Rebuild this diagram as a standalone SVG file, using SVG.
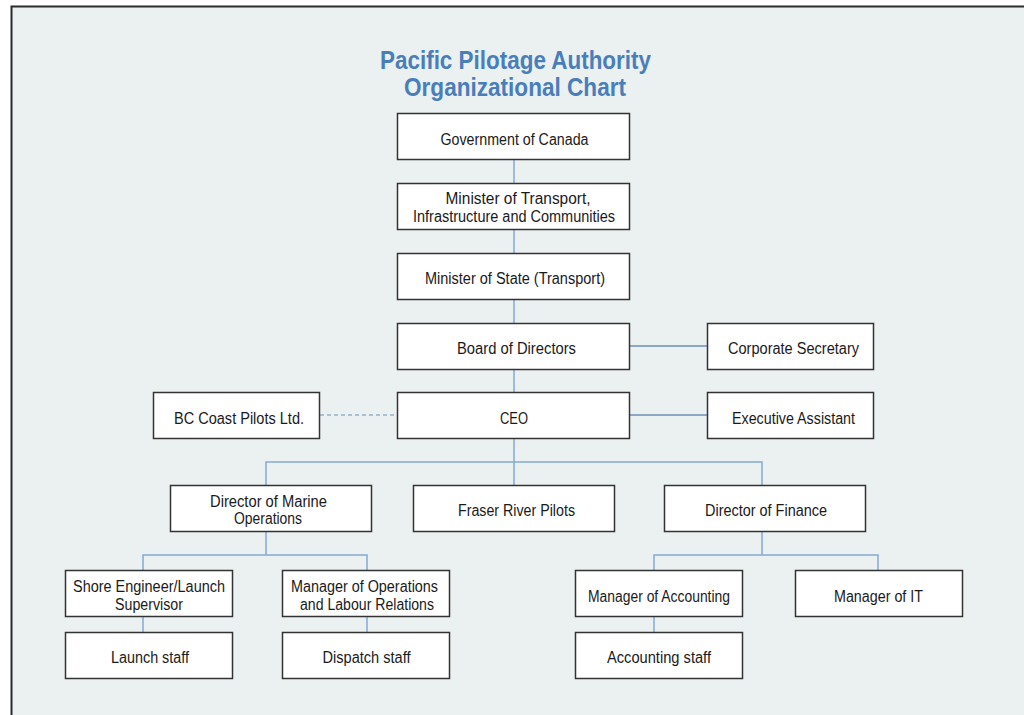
<svg xmlns="http://www.w3.org/2000/svg" width="1024" height="715" viewBox="0 0 1024 715">
<style>
.bg{fill:#EBF1F1}
.box{fill:#ffffff;stroke:#333333;stroke-width:1.5}
.t{font-family:"Liberation Sans",Arial,sans-serif;font-size:16px;fill:#1a1a1a;text-anchor:middle}
.title{font-family:"Liberation Sans",Arial,sans-serif;font-size:25px;font-weight:bold;fill:#4A7EBB;text-anchor:middle}
.c{stroke:#86A9D3;stroke-width:1.5;fill:none}
.cs{stroke:#6E8FB6;stroke-width:1.3;fill:none}
.d{stroke:#6E8FB6;stroke-width:1.2;fill:none;stroke-dasharray:4 3}
</style>
<rect x="0" y="0" width="1024" height="715" fill="#ffffff"/>
<rect class="bg" x="11" y="6" width="1013" height="709"/>
<path d="M11.5 715 V6.5 H1024" stroke="#2b2b2b" stroke-width="2" fill="none"/>
<g id="title">
<text class="title" x="515.5" y="69" textLength="271" lengthAdjust="spacingAndGlyphs">Pacific Pilotage Authority</text>
<text class="title" x="515" y="96" textLength="222" lengthAdjust="spacingAndGlyphs">Organizational Chart</text>
</g>
<g id="connectors">
<line class="c" x1="514" y1="160" x2="514" y2="183"/>
<line class="c" x1="514" y1="230" x2="514" y2="253"/>
<line class="c" x1="514" y1="299" x2="514" y2="323"/>
<line class="c" x1="514" y1="369" x2="514" y2="392"/>
<line class="cs" x1="630" y1="346" x2="707" y2="346"/>
<line class="cs" x1="630" y1="415" x2="707" y2="415"/>
<line class="d" x1="320" y1="415" x2="397" y2="415"/>
<polyline class="c" points="514,438 514,462"/>
<polyline class="c" points="266,485 266,462 762,462 762,485"/>
<line class="c" x1="514" y1="462" x2="514" y2="485"/>
<line class="c" x1="266" y1="531" x2="266" y2="555"/>
<polyline class="c" points="143,570 143,555 367,555 367,570"/>
<line class="c" x1="143" y1="616" x2="143" y2="632"/>
<line class="c" x1="367" y1="616" x2="367" y2="632"/>
<line class="c" x1="762" y1="531" x2="762" y2="555"/>
<polyline class="c" points="654,570 654,555 878,555 878,570"/>
<line class="c" x1="654" y1="616" x2="654" y2="632"/>
</g>
<g id="n-gov"><rect class="box" x="397.5" y="113.5" width="232" height="46"/><text class="t" x="514.5" y="145" textLength="148" lengthAdjust="spacingAndGlyphs">Government of Canada</text></g>
<g id="n-mot"><rect class="box" x="397.5" y="183.5" width="232" height="46"/><text class="t" x="518" y="204" textLength="145" lengthAdjust="spacingAndGlyphs">Minister of Transport,</text><text class="t" x="514" y="222" textLength="202" lengthAdjust="spacingAndGlyphs">Infrastructure and Communities</text></g>
<g id="n-mos"><rect class="box" x="397.5" y="253.5" width="232" height="46"/><text class="t" x="515" y="284" textLength="180" lengthAdjust="spacingAndGlyphs">Minister of State (Transport)</text></g>
<g id="n-board"><rect class="box" x="397.5" y="323.5" width="232" height="46"/><text class="t" x="516.5" y="354" textLength="119" lengthAdjust="spacingAndGlyphs">Board of Directors</text></g>
<g id="n-corpsec"><rect class="box" x="707.5" y="323.5" width="166" height="46"/><text class="t" x="793.5" y="354" textLength="131" lengthAdjust="spacingAndGlyphs">Corporate Secretary</text></g>
<g id="n-ceo"><rect class="box" x="397.5" y="392.5" width="232" height="46"/><text class="t" x="514" y="424" textLength="28" lengthAdjust="spacingAndGlyphs">CEO</text></g>
<g id="n-bccp"><rect class="box" x="153.5" y="392.5" width="166" height="46"/><text class="t" x="239" y="424" textLength="130" lengthAdjust="spacingAndGlyphs">BC Coast Pilots Ltd.</text></g>
<g id="n-ea"><rect class="box" x="707.5" y="392.5" width="166" height="46"/><text class="t" x="793.5" y="424" textLength="123" lengthAdjust="spacingAndGlyphs">Executive Assistant</text></g>
<g id="n-dmo"><rect class="box" x="170.5" y="485.5" width="201" height="46"/><text class="t" x="268.5" y="506.5" textLength="117" lengthAdjust="spacingAndGlyphs">Director of Marine</text><text class="t" x="268" y="524" textLength="68" lengthAdjust="spacingAndGlyphs">Operations</text></g>
<g id="n-frp"><rect class="box" x="413.5" y="485.5" width="201" height="46"/><text class="t" x="516.5" y="516" textLength="117" lengthAdjust="spacingAndGlyphs">Fraser River Pilots</text></g>
<g id="n-dof"><rect class="box" x="664.5" y="485.5" width="201" height="46"/><text class="t" x="766" y="516" textLength="122" lengthAdjust="spacingAndGlyphs">Director of Finance</text></g>
<g id="n-sel"><rect class="box" x="65.5" y="570.5" width="167" height="46"/><text class="t" x="149" y="592" textLength="152" lengthAdjust="spacingAndGlyphs">Shore Engineer/Launch</text><text class="t" x="149" y="610" textLength="68" lengthAdjust="spacingAndGlyphs">Supervisor</text></g>
<g id="n-mol"><rect class="box" x="282.5" y="570.5" width="167" height="46"/><text class="t" x="364.5" y="592" textLength="147" lengthAdjust="spacingAndGlyphs">Manager of Operations</text><text class="t" x="367" y="610" textLength="134" lengthAdjust="spacingAndGlyphs">and Labour Relations</text></g>
<g id="n-ls"><rect class="box" x="65.5" y="632.5" width="167" height="46"/><text class="t" x="150" y="663" textLength="78" lengthAdjust="spacingAndGlyphs">Launch staff</text></g>
<g id="n-ds"><rect class="box" x="282.5" y="632.5" width="167" height="46"/><text class="t" x="366.5" y="663" textLength="88" lengthAdjust="spacingAndGlyphs">Dispatch staff</text></g>
<g id="n-moa"><rect class="box" x="575.5" y="570.5" width="167" height="46"/><text class="t" x="659" y="602" textLength="142" lengthAdjust="spacingAndGlyphs">Manager of Accounting</text></g>
<g id="n-mit"><rect class="box" x="795.5" y="570.5" width="167" height="46"/><text class="t" x="878.5" y="602" textLength="89" lengthAdjust="spacingAndGlyphs">Manager of IT</text></g>
<g id="n-as"><rect class="box" x="575.5" y="632.5" width="167" height="46"/><text class="t" x="659" y="663" textLength="104" lengthAdjust="spacingAndGlyphs">Accounting staff</text></g>
</svg>
